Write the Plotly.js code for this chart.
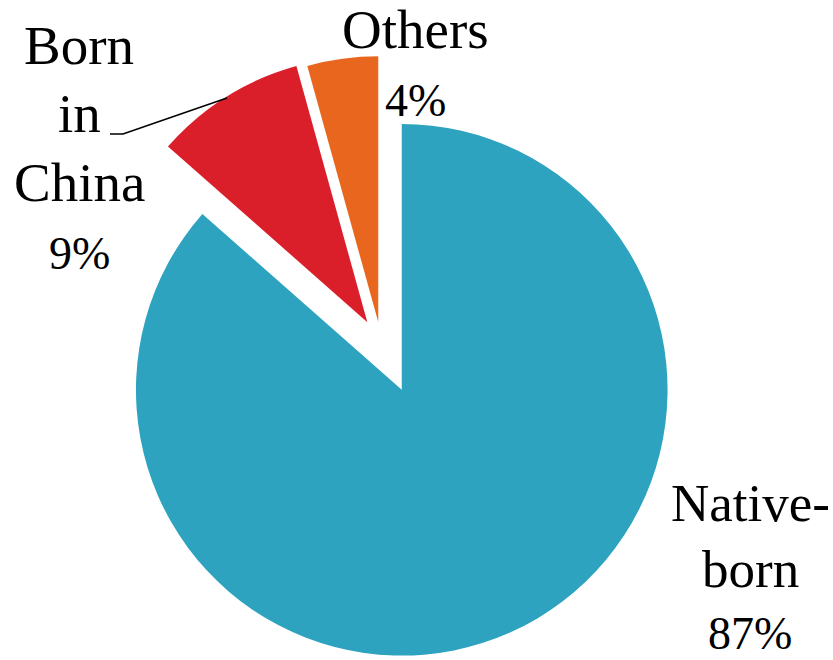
<!DOCTYPE html>
<html><head><meta charset="utf-8">
<script src="https://cdn.plot.ly/plotly-3.0.1.min.js"></script>
<style>html,body{margin:0;padding:0;background:#fff}</style>
</head><body><div id="chart" style="width:833px;height:660px"></div>
<script>
const labels = ["Native-born", "Born in China", "Others"];
const values = [86.5, 9.2, 4.3];
const labelLines = [["Native-", "born"], ["Born", "in", "China"], ["Others"]];
const colors = ["#2EA3BF", "#DA1F2B", "#E9661F"];
const pulls = [0.187, 0.099, 0.085];

const W = 833, H = 660, T = 29, B = 0;
const px = x => x / W;
const py = y => (H - y) / (H - T - B);
const total = values.reduce((a, b) => a + b, 0);

// placement of each label block: centre x, baseline of each line, fonts
const blocks = [
  {cx: 750, base: [521, 587, 650], font: 'Liberation Serif', size: 53, pfont: 'Liberation Serif', psize: 46},
  {cx: 79, base: [65, 133, 202, 270], font: 'Liberation Serif', size: 55, pfont: 'Liberation Serif', psize: 46},
  {cx: 415, base: [49, 117], font: 'Liberation Serif', size: 55, pfont: 'Liberation Serif', psize: 46}
];

const annotations = [];
labels.forEach((lab, i) => {
  const blk = blocks[i];
  const pct = Math.round(values[i] / total * 100) + '%';
  const lines = labelLines[i].concat([pct]);
  lines.forEach((txt, j) => {
    const isPct = j === lines.length - 1;
    const size = isPct ? blk.psize : blk.size;
    annotations.push({
      xref: 'paper', yref: 'paper',
      x: px(blk.cx), y: py(blk.base[j] + 0.22 * size + 1),
      xanchor: 'center', yanchor: 'bottom',
      text: txt, showarrow: false,
      font: {family: isPct ? blk.pfont : blk.font, size: size, color: '#000'}
    });
  });
});

const data = [{
  type: 'pie',
  labels: labels,
  values: values,
  marker: {colors: colors, line: {width: 0}},
  pull: pulls,
  sort: false,
  direction: 'clockwise',
  rotation: 0,
  textinfo: 'none',
  hoverinfo: 'label+percent',
  showlegend: false,
  domain: {x: [0, 2 * 381.3 / W], y: [0, 1]}
}];

const layout = {
  width: W, height: H,
  margin: {l: 0, r: 0, t: T, b: B, pad: 0},
  paper_bgcolor: '#fff',
  showlegend: false,
  annotations: annotations,
  shapes: [{
    type: 'path', xref: 'paper', yref: 'paper',
    path: `M ${px(110)},${py(134)} L ${px(123)},${py(134)} L ${px(227)},${py(98)}`,
    line: {color: '#000', width: 1.6}
  }]
};

Plotly.newPlot('chart', data, layout, {staticPlot: true, displayModeBar: false});
</script>
</body></html>
